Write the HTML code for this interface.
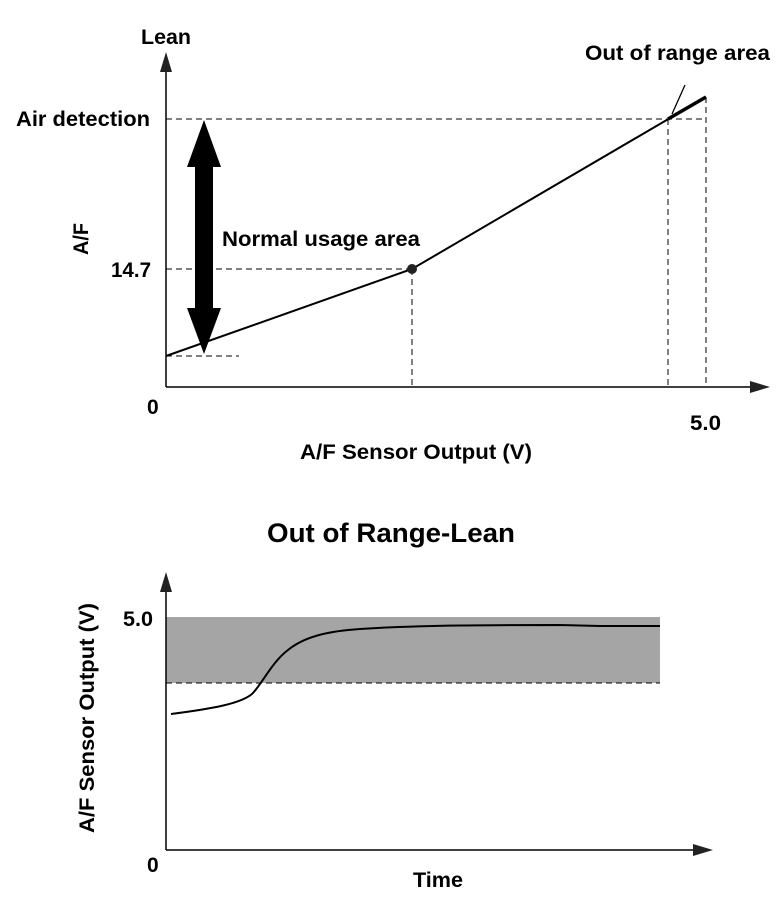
<!DOCTYPE html>
<html><head><style>
body{margin:0;background:#fff;}
text{font-family:"Liberation Sans",Arial,sans-serif;font-weight:bold;fill:#000;}
</style></head><body>
<svg width="776" height="908" viewBox="0 0 776 908" xmlns="http://www.w3.org/2000/svg">
<!-- Top chart -->
<line x1="166" y1="387" x2="166" y2="68" stroke="#000" stroke-width="1.5"/>
<polygon points="166,52 160,72 172,72" fill="#222"/>
<line x1="166" y1="387" x2="752" y2="387" stroke="#000" stroke-width="1.5"/>
<polygon points="770,387 750,381 750,393" fill="#222"/>
<g stroke="#000" stroke-width="1" stroke-dasharray="6,4" fill="none">
<line x1="166" y1="119" x2="706" y2="119"/>
<line x1="166" y1="269" x2="412" y2="269"/>
<line x1="166" y1="356" x2="239" y2="356"/>
<line x1="412" y1="269" x2="412" y2="387"/>
<line x1="668" y1="119" x2="668" y2="387"/>
<line x1="706" y1="97" x2="706" y2="387"/>
</g>
<polyline points="166,356 412,269 706,97" fill="none" stroke="#000" stroke-width="2"/>
<line x1="668" y1="119" x2="706" y2="97" stroke="#000" stroke-width="3.5"/>
<circle cx="412" cy="269" r="5" fill="#222"/>
<line x1="685" y1="85" x2="672" y2="114" stroke="#000" stroke-width="1.3"/>
<polygon points="204,120 221,167 213,167 213,308 221,308 204,354 187,308 195,308 195,167 187,167" fill="#000"/>
<text x="141" y="44" font-size="21" textLength="50" lengthAdjust="spacingAndGlyphs">Lean</text>
<text x="16" y="126" font-size="21" textLength="134" lengthAdjust="spacingAndGlyphs">Air detection</text>
<text x="111" y="277" font-size="21" textLength="40" lengthAdjust="spacingAndGlyphs">14.7</text>
<text x="147" y="414" font-size="21">0</text>
<text x="690" y="430" font-size="21" textLength="31" lengthAdjust="spacingAndGlyphs">5.0</text>
<text x="222" y="246" font-size="21" textLength="198" lengthAdjust="spacingAndGlyphs">Normal usage area</text>
<text x="585" y="60" font-size="21" textLength="185" lengthAdjust="spacingAndGlyphs">Out of range area</text>
<text x="300" y="459" font-size="21" textLength="232" lengthAdjust="spacingAndGlyphs">A/F Sensor Output (V)</text>
<text transform="translate(88,239) rotate(-90)" text-anchor="middle" font-size="21" textLength="32" lengthAdjust="spacingAndGlyphs">A/F</text>
<!-- Bottom chart -->
<text x="267" y="542" font-size="27" textLength="248" lengthAdjust="spacingAndGlyphs">Out of Range-Lean</text>
<rect x="166" y="617" width="494" height="66" fill="#a5a5a5"/>
<line x1="166" y1="683" x2="660" y2="683" stroke="#000" stroke-width="1" stroke-dasharray="6,4"/>
<line x1="166" y1="850" x2="166" y2="588" stroke="#000" stroke-width="1.5"/>
<polygon points="166,572 160,592 172,592" fill="#222"/>
<line x1="166" y1="850" x2="695" y2="850" stroke="#000" stroke-width="1.5"/>
<polygon points="713,850 693,844 693,856 " fill="#222"/>
<path d="M171,714 C210,709 240,704 252,694 C262,684 272,662 288,650 C305,636 330,631 360,629 C420,625 500,625 560,625 L600,626 L660,626" fill="none" stroke="#000" stroke-width="2"/>
<text x="123" y="626" font-size="21" textLength="30" lengthAdjust="spacingAndGlyphs">5.0</text>
<text x="147" y="872" font-size="21">0</text>
<text x="413" y="887" font-size="21" textLength="50" lengthAdjust="spacingAndGlyphs">Time</text>
<text transform="translate(94,718) rotate(-90)" text-anchor="middle" font-size="21" textLength="230" lengthAdjust="spacingAndGlyphs">A/F Sensor Output (V)</text>
</svg>
</body></html>
